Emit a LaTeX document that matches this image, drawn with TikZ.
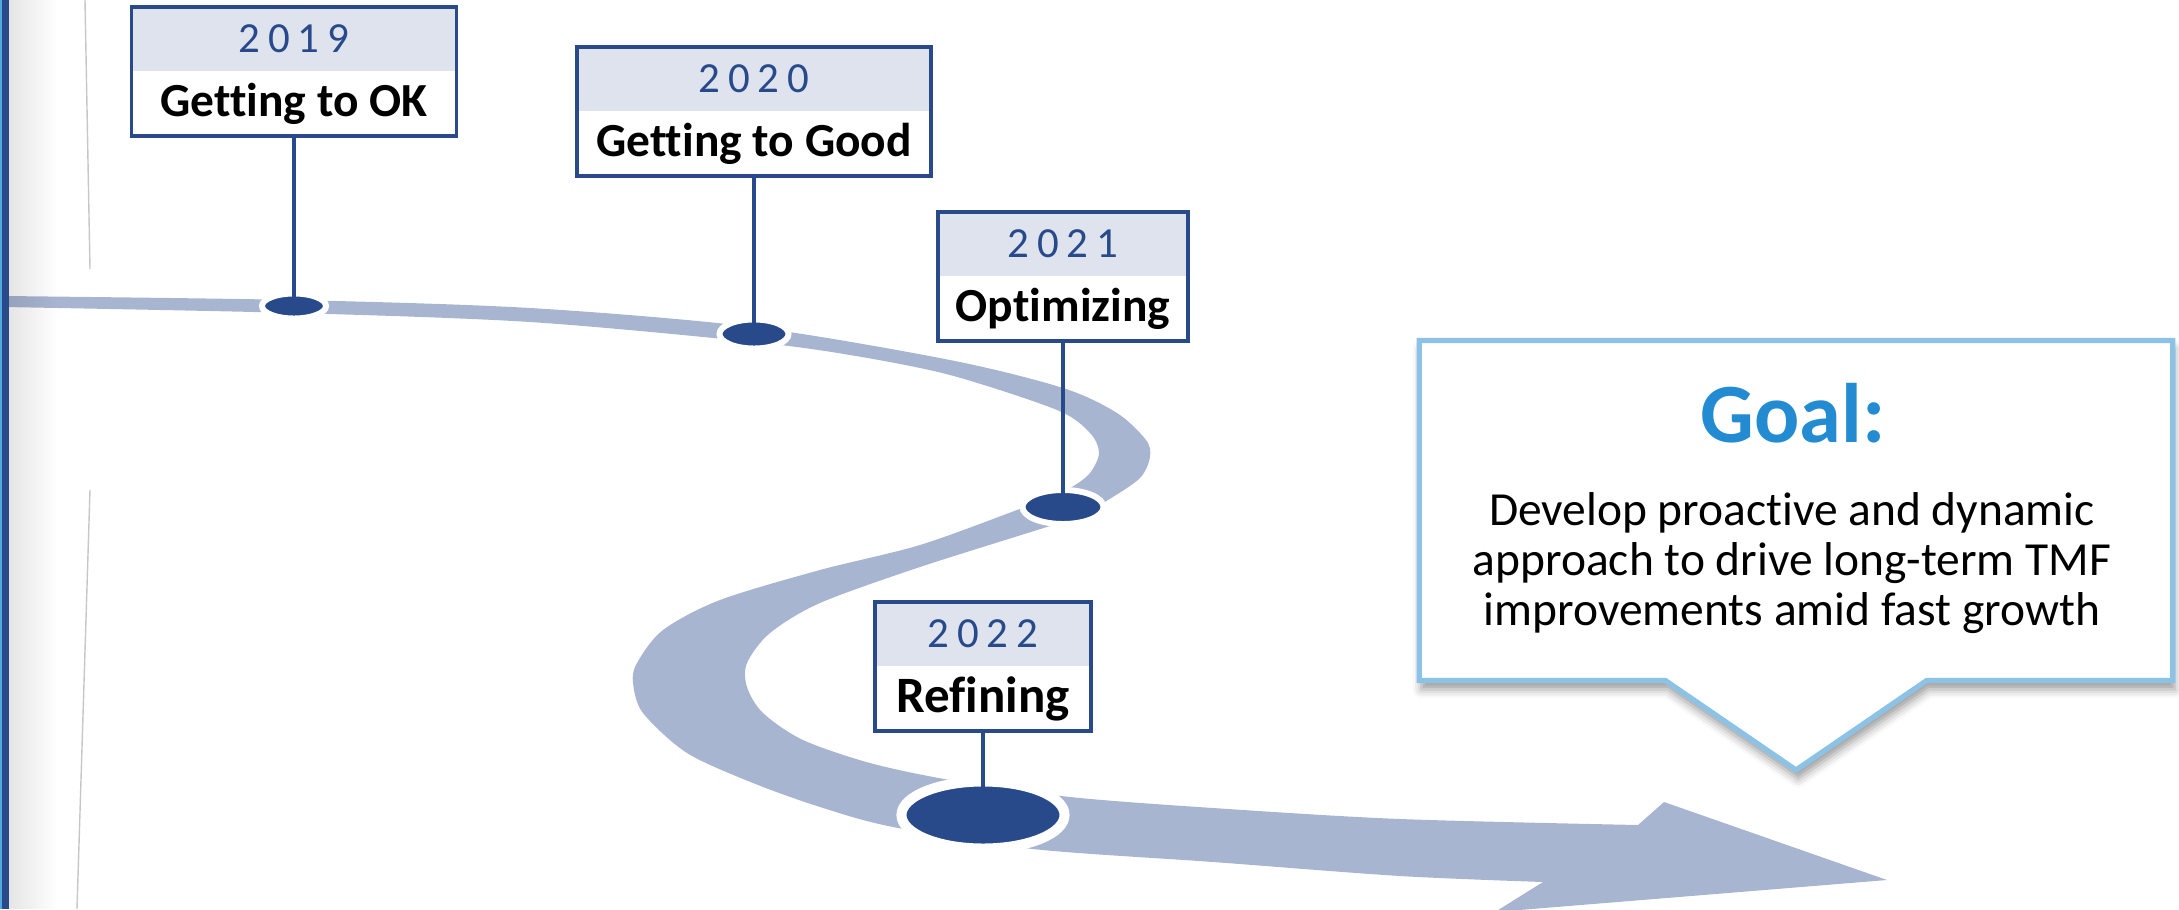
\documentclass[tikz,border=0pt]{standalone}
\usepackage{fontspec}
\setmainfont{Carlito}[Ligatures=NoCommon]
\newfontfamily\yearfont[LetterSpace=18]{Carlito}
\usetikzlibrary{positioning,shapes.geometric,shapes.callouts,shadows.blur,fadings}

\definecolor{navy}{RGB}{40,74,139}
\definecolor{roadblue}{RGB}{168,181,209}
\definecolor{headfill}{RGB}{222,227,238}
\definecolor{goalblue}{RGB}{34,139,210}
\definecolor{calloutline}{RGB}{140,194,229}
\definecolor{edgeblue}{RGB}{80,170,225}

\begin{document}
\begin{tikzpicture}[x=0.01cm, y=-0.01cm,
    yearcell/.style={fill=headfill, text=navy, inner sep=0pt, outer sep=0pt,
        minimum height=0.64cm, font=\yearfont\fontsize{12.2}{14}\selectfont},
    titlecell/.style={fill=white, inner sep=0pt, outer sep=0pt,
        minimum height=0.65cm, font=\bfseries\fontsize{13.5}{16}\selectfont},
    boxframe/.style={draw=navy, line width=0.95pt},
    stem/.style={draw=navy, line width=0.95pt, shorten >=-1.6pt},
    yeardot/.style={ellipse, fill=navy, draw=white, line width=1.7pt,
        inner sep=0pt, outer sep=0pt},
    goalbox/.style={rectangle callout, draw=calloutline, line width=1.5pt,
        fill=white, minimum width=7.53cm, minimum height=3.40cm,
        callout pointer width=2.61cm,
        blur shadow={shadow xshift=0.6pt, shadow yshift=-2.5pt,
            shadow blur radius=2.5pt, shadow opacity=40}},
    goaltitle/.style={text=goalblue, inner sep=0pt,
        font=\bfseries\fontsize{24}{28}\selectfont},
    goaltext/.style={align=center, inner sep=0pt,
        font=\fontsize{13.5}{14.2}\selectfont}]
    \useasboundingbox (0,0) rectangle (2179,909);

    % the winding road with its arrow head
    \fill[roadblue] plot[smooth] coordinates {(4,296) (294,300) (530,308)
            (753,327) (950,360) (1063,388) (1117,413) (1146,440) (1150,457)
            (1140,478) (1108,500) (1080,515) (1053,525) (920,567) (820,603)
            (770,633) (747,663) (747,687) (763,713) (803,740) (870,763)
            (950,780) (1070,797) (1213,808) (1400,819) (1638,825)}
        -- (1664,802) -- (1887,880) -- (1495,912)
        -- plot[smooth] coordinates {(1543,882) (1400,876) (1213,862)
            (1033,849) (893,827) (820,807) (753,783) (687,753) (643,713)
            (633,683) (637,663) (663,630) (720,600) (820,570) (920,545)
            (1017,510) (1050,497) (1072,487) (1090,473) (1099,453) (1090,433)
            (1057,410) (950,375) (850,355) (753,342) (530,322) (294,313)
            (4,307)}
        -- cycle;

    % left margin
    \fill[black, opacity=0.1, path fading=east] (9,0) rectangle (57,909);
    \fill[edgeblue] (0,0) rectangle (2,909);
    \fill[navy] (2,0) rectangle (9,909);
    \draw[black!22, line width=0.4pt] (85,0) -- (90,269) (90,490) -- (77,909);

    % 2019
    \node[yearcell, minimum width=3.25cm, anchor=north] (y19) at (294,7) {2019};
    \node[titlecell, minimum width=3.25cm, below=0pt of y19] (t19) {Getting to OK};
    \draw[boxframe] (y19.north west) rectangle (t19.south east);
    \node[yeardot, minimum width=0.64cm, minimum height=0.25cm] (d19) at (294,306) {};
    \draw[stem] (t19.south) -- (d19.north);

    % 2020
    \node[yearcell, minimum width=3.54cm, anchor=north] (y20) at (754,47) {2020};
    \node[titlecell, minimum width=3.54cm, below=0pt of y20] (t20) {Getting to Good};
    \draw[boxframe] (y20.north west) rectangle (t20.south east);
    \node[yeardot, minimum width=0.69cm, minimum height=0.29cm] (d20) at (754,334) {};
    \draw[stem] (t20.south) -- (d20.north);

    % 2021
    \node[yearcell, minimum width=2.50cm, anchor=north] (y21) at (1063,212) {2021};
    \node[titlecell, minimum width=2.50cm, below=0pt of y21] (t21) {Optimizing};
    \draw[boxframe] (y21.north west) rectangle (t21.south east);
    \node[yeardot, minimum width=0.81cm, minimum height=0.34cm] (d21) at (1063,507) {};
    \draw[stem] (t21.south) -- (d21.north);

    % 2022
    \node[yearcell, minimum width=2.16cm, anchor=north] (y22) at (983,602) {2022};
    \node[titlecell, minimum width=2.16cm, below=0pt of y22,
        font=\bfseries\fontsize{14.5}{17}\selectfont] (t22) {Refining};
    \draw[boxframe] (y22.north west) rectangle (t22.south east);
    \node[yeardot, line width=2.85pt, minimum width=1.63cm, minimum height=0.67cm]
        (d22) at (983,815) {};
    \draw[stem] (t22.south) -- (d22.north);

    % goal callout
    \node[goalbox, callout absolute pointer={(1796,770)}] (goal) at (1796,510.5) {};
    \node[goaltitle] (gtitle) at (1793,413) {Goal:};
    \node[goaltext] (gtext) at (1792,563) {Develop proactive and dynamic\\
        approach to drive long-term TMF\\improvements amid fast growth};
\end{tikzpicture}
\end{document}
